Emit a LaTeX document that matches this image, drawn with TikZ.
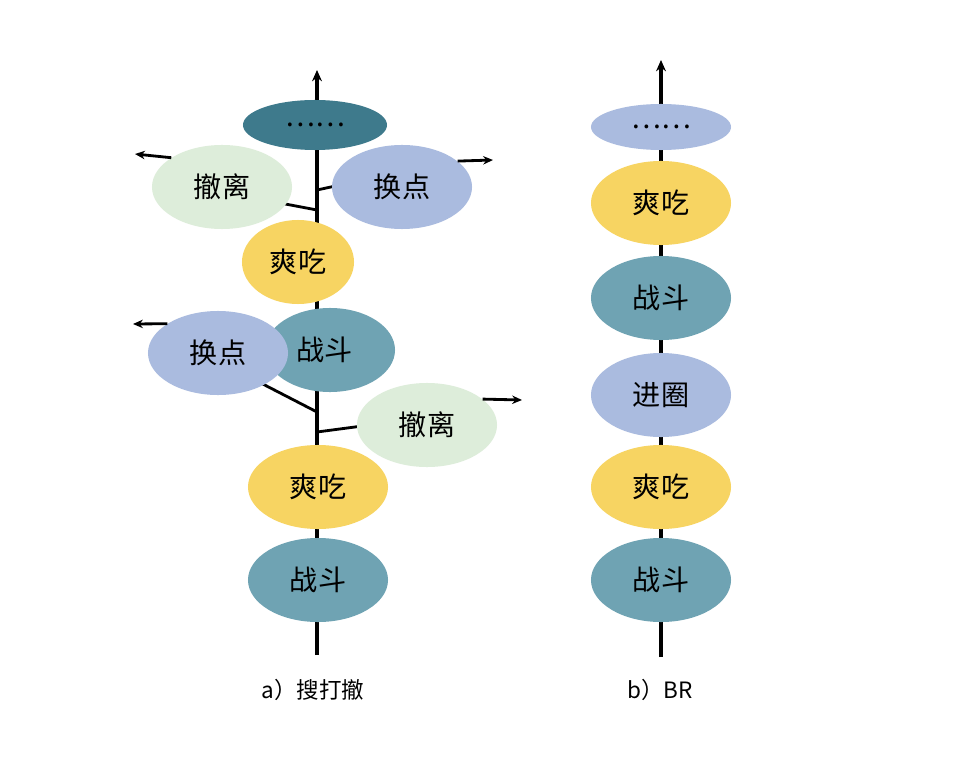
\documentclass[tikz,border=0pt]{standalone}
\usepackage{fontspec}
\newfontfamily\cjk{Noto Sans CJK SC}
\usetikzlibrary{shapes.geometric,arrows.meta}
\definecolor{darkteal}{HTML}{3E7A8C}
\definecolor{fight}{HTML}{6FA3B3}
\definecolor{eat}{HTML}{F7D462}
\definecolor{move}{HTML}{AABBDF}
\definecolor{leave}{HTML}{DDEDDA}
\tikzset{
  stage/.style={ellipse,minimum width=3.5cm,minimum height=2.1cm,font=\cjk\fontsize{20}{20}\selectfont,inner sep=0pt},
  trunk/.style={line width=2.2pt,-{Stealth[length=8pt,width=7pt]}},
  branch/.style={line width=2pt},
  exit/.style={line width=2pt,-{Stealth[length=7pt,width=6pt]}}
}
\begin{document}
\begin{tikzpicture}[x=0.025cm,y=-0.025cm]
\fill[white] (0,0) rectangle (960,768);
%left trunk and branches
\coordinate (la) at (317,655);
\coordinate (lt) at (317,70);
\draw[trunk] (la) -- (lt);
\draw[branch] (317,210) -- (280,203);
\draw[branch] (317,190) -- (340,185);
\draw[branch] (317,412) -- (255,380);
\draw[branch] (317,432) -- (370,425);
%right trunk
\coordinate (ra) at (661,657);
\coordinate (rt) at (661,60);
\draw[trunk] (ra) -- (rt);

%left stages
\node[stage,fill=darkteal,minimum width=3.6cm,minimum height=1.25cm] (ldots) at (315,125) {……};
\node[stage,fill=leave] (lleave1) at (222,187) {撤离};
\node[stage,fill=move] (lmove1) at (402,187) {换点};
\node[stage,fill=eat,minimum width=2.8cm] (leat1) at (298,262) {爽吃};
\node[stage,fill=fight,minimum width=3.25cm] (lfight1) at (330,350) {\hspace*{-8pt}战斗};
\node[stage,fill=move] (lmove2) at (218,353) {换点};
\node[stage,fill=leave] (lleave2) at (427,425) {撤离};
\node[stage,fill=eat] (leat2) at (318,487) {爽吃};
\node[stage,fill=fight] (lfight2) at (318,580) {战斗};
%outgoing arrows
\coordinate (o1) at (135,154);
\coordinate (o2) at (493,160);
\coordinate (o3) at (133,324);
\coordinate (o4) at (522,400);
\draw[exit] (lleave1.150) -- (o1);
\draw[exit] (lmove1.25) -- (o2);
\draw[exit] (lmove2.150) -- (o3);
\draw[exit] (lleave2.25) -- (o4);

%right stages
\node[stage,fill=move,minimum height=1.15cm] (rdots) at (661,127) {……};
\node[stage,fill=eat] (reat1) at (661,203) {爽吃};
\node[stage,fill=fight] (rfight1) at (661,298) {战斗};
\node[stage,fill=move] (rring) at (661,395) {进圈};
\node[stage,fill=eat] (reat2) at (661,487) {爽吃};
\node[stage,fill=fight] (rfight2) at (661,580) {战斗};

%captions
\node[font=\cjk\fontsize{16}{16}\selectfont] (capa) at (313,690) {a）搜打撤};
\node[font=\cjk\fontsize{16}{16}\selectfont] (capb) at (660,690) {b）BR};
\end{tikzpicture}
\end{document}
